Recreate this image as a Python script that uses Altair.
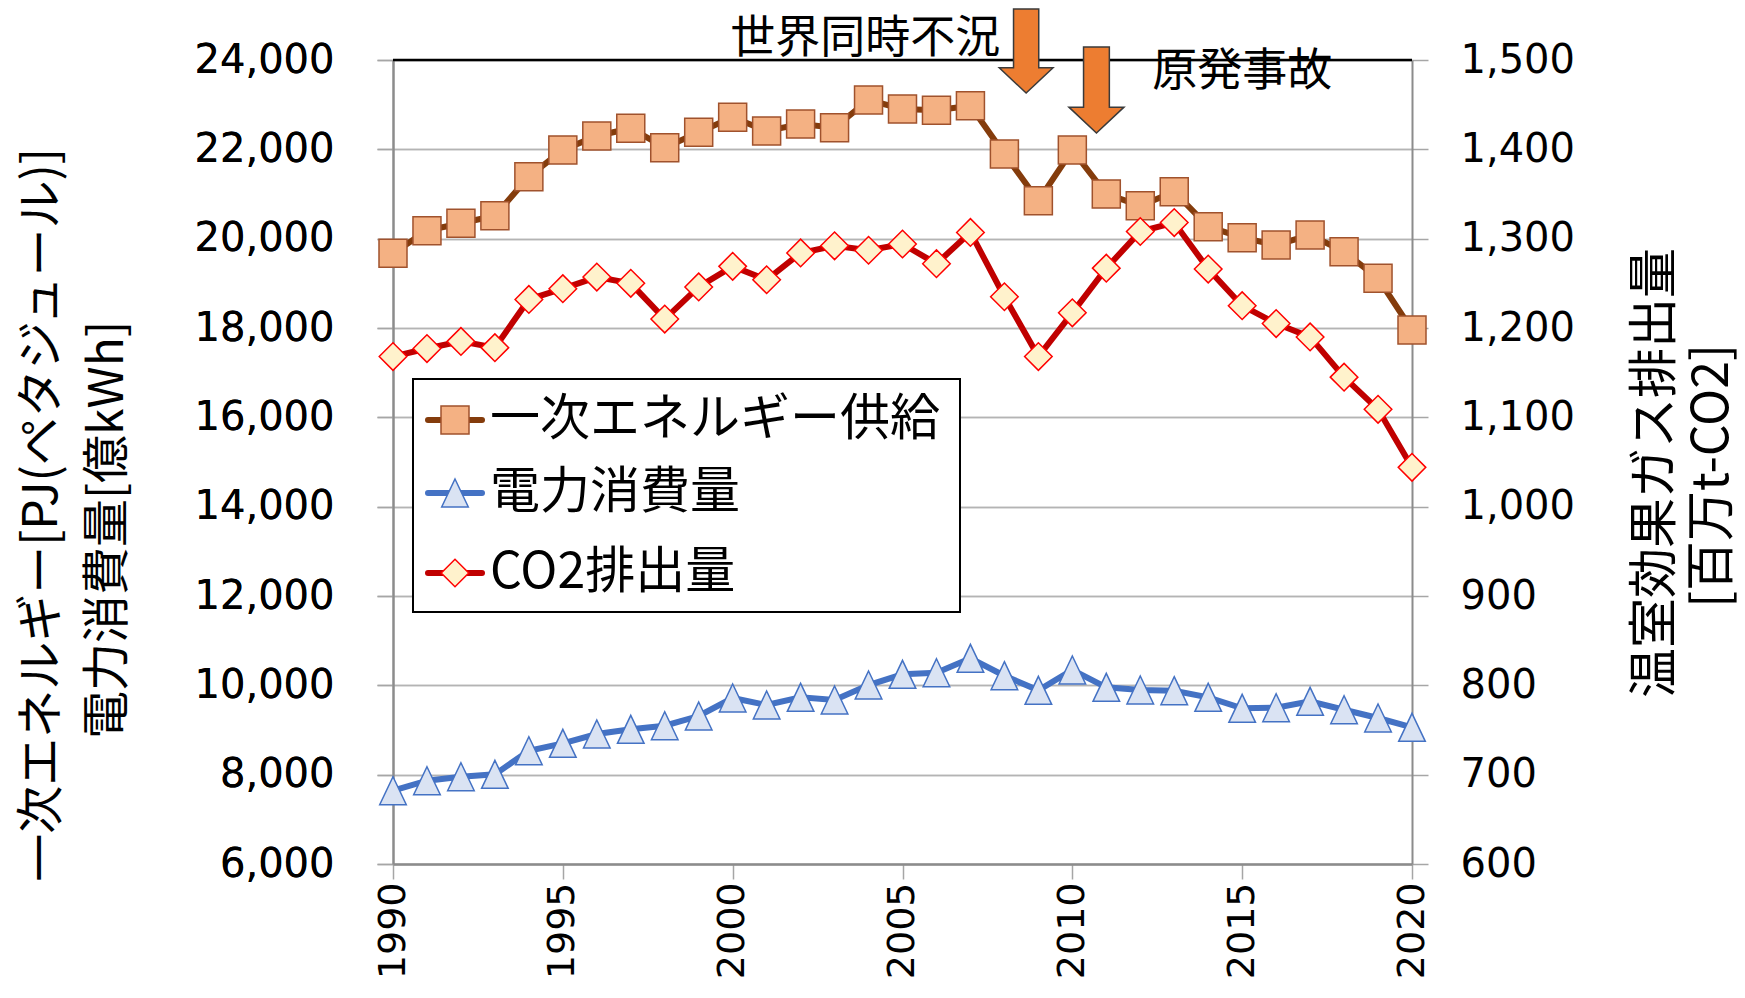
import altair as alt
import pandas as pd

# ---------------- data ----------------
years = list(range(1990, 2021))
primary_energy = [19673, 20179, 20345, 20515, 21388, 21986, 22299, 22472, 22037, 22382,
                  22718, 22411, 22567, 22485, 23105, 22904, 22874, 22977, 21895, 20850,
                  21984, 21000, 20738, 21051, 20268, 20022, 19859, 20082, 19709, 19112, 17955]
electricity = [7640, 7864, 7954, 8007, 8536, 8701, 8910, 9015, 9096, 9313,
               9716, 9559, 9731, 9671, 10007, 10246, 10282, 10604, 10216, 9888,
               10343, 9955, 9895, 9880, 9731, 9485, 9499, 9642, 9454, 9268, 9060]
co2 = [1168, 1177, 1185, 1178, 1232, 1244, 1257, 1250, 1210, 1246,
       1269, 1254, 1284, 1292, 1287, 1294, 1272, 1307, 1235, 1168,
       1217, 1267, 1308, 1318, 1266, 1225, 1205, 1190, 1145, 1109, 1044]

series_names = ["一次エネルギー供給", "電力消費量", "CO2排出量"]
x_ticks = [1990, 1995, 2000, 2005, 2010, 2015, 2020]
left_ticks = [6000, 8000, 10000, 12000, 14000, 16000, 18000, 20000, 22000, 24000]
right_ticks = [600, 700, 800, 900, 1000, 1100, 1200, 1300, 1400, 1500]

event_labels = ["世界同時不況", "原発事故"]
event_label_year = [2003.9, 2015.0]
event_label_val = [24470, 23730]
event_arrow_year = [2008.64, 2010.71]
event_arrow_val = [24200, 23330]

left_title = ["一次エネルギー[PJ(ペタジュール)]", "電力消費量[億kWh]"]
right_title = ["温室効果ガス排出量", "[百万t-CO2]"]

# ---------------- layout ----------------
W, H = 1019, 804
JP = "Noto Sans CJK JP"
NUM = "DejaVu Sans"
ARROW = "M-0.3,-1L0.3,-1L0.3,0.4L0.64,0.4L0,1L-0.64,0.4L-0.3,0.4Z"
TRI = "M0,-1L0.95,1L-0.95,1Z"

df = pd.DataFrame({"year": years, "energy": primary_energy, "elec": electricity, "co2": co2})

x_enc = alt.X(
    "year:Q",
    scale=alt.Scale(domain=[1990, 2020], nice=False, zero=False),
    axis=alt.Axis(values=x_ticks, format="d", labelAngle=270, title=None, grid=False,
                  labelFont=NUM, labelFontSize=38, labelColor="black", labelPadding=3,
                  tickSize=15, tickColor="#a6a6a6", tickWidth=1.5,
                  domainColor="#8c8c8c", domainWidth=2.5),
)

left_scale = alt.Scale(domain=[6000, 24000], nice=False, zero=False)
left_axis = alt.Axis(orient="left", values=left_ticks, format=",.0f", title=None, grid=True,
                     gridColor="#b4b4b4", gridWidth=1.5,
                     labelFont=NUM, labelFontSize=40, labelColor="black", labelPadding=43,
                     tickSize=16, tickColor="#a6a6a6", tickWidth=1.5,
                     domainColor="#8c8c8c", domainWidth=2)
right_scale = alt.Scale(domain=[600, 1500], nice=False, zero=False)
right_axis = alt.Axis(orient="right", values=right_ticks, format=",.0f", title=None, grid=False,
                      labelFont=NUM, labelFontSize=40, labelColor="black", labelPadding=32,
                      tickSize=16, tickColor="#a6a6a6", tickWidth=1.5,
                      domainColor="#8c8c8c", domainWidth=2)

base = alt.Chart(df)


def yl(field):
    return alt.Y(f"{field}:Q", scale=left_scale, axis=left_axis)


LW = 6
energy_line = base.mark_line(color="#843C0C", strokeWidth=LW).encode(x=x_enc, y=yl("energy"))
energy_pts = base.mark_point(shape="square", size=784, filled=True, fill="#F4B183", fillOpacity=1,
                             stroke="#A0522D", strokeWidth=1.5, opacity=1).encode(x=x_enc, y=yl("energy"))
elec_line = base.mark_line(color="#4472C4", strokeWidth=LW).encode(x=x_enc, y=yl("elec"))
elec_pts = base.mark_point(shape=TRI, size=784, filled=True, fill="#DAE3F3", fillOpacity=1,
                           stroke="#4472C4", strokeWidth=1.5, opacity=1).encode(x=x_enc, y=yl("elec"))

arrow_df = pd.DataFrame({"year": event_arrow_year, "ay": event_arrow_val})
arrow_layers = []
for i, sz in enumerate([7056, 7396]):
    arrow_layers.append(
        alt.Chart(arrow_df.iloc[[i]]).mark_point(shape=ARROW, size=sz, filled=True, fill="#ED7D31",
                                                 fillOpacity=1, stroke="#3a3a3a", strokeWidth=1.5,
                                                 opacity=1)
        .encode(x=x_enc, y=yl("ay"))
    )

label_df = pd.DataFrame({"year": event_label_year, "ay": event_label_val, "label": event_labels})
event_text = alt.Chart(label_df).mark_text(font=JP, fontSize=45, align="center", baseline="middle",
                                            color="black").encode(x=x_enc, y=yl("ay"), text="label:N")

left_group = alt.layer(energy_line, energy_pts, elec_line, elec_pts)

ry = alt.Y("co2:Q", scale=right_scale, axis=right_axis)
co2_line = base.mark_line(color="#C00000", strokeWidth=LW).encode(x=x_enc, y=ry)
co2_pts = base.mark_point(shape="diamond", size=760, filled=True, fill="#FFF2CC", fillOpacity=1,
                          stroke="#FF0000", strokeWidth=1.5, opacity=1).encode(x=x_enc, y=ry)
right_group = alt.layer(co2_line, co2_pts)

annot_group = alt.layer(*arrow_layers, event_text)

one = pd.DataFrame({"k": [0]})
top_rule = alt.Chart(one).mark_rule(color="black", strokeWidth=2.5).encode(
    x=alt.value(0), x2=alt.value(W), y=alt.value(0))

# manual axis titles
title_layers = []
for txt, px, py, fs in [(left_title[0], -350, 455, 48), (left_title[1], -284, 470, 48),
                        (right_title[0], 1263, 413, 50), (right_title[1], 1320, 416, 50)]:
    title_layers.append(
        alt.Chart(pd.DataFrame({"t": [txt]})).mark_text(font=JP, fontSize=fs, angle=270, align="center",
                                                        baseline="middle", color="black")
        .encode(x=alt.value(px), y=alt.value(py), text="t:N")
    )

# manual legend
legend_box = alt.Chart(one).mark_rect(fill="white", stroke="black", strokeWidth=2).encode(
    x=alt.value(20), x2=alt.value(567), y=alt.value(319), y2=alt.value(552))
legend_layers = [legend_box]
legend_styles = [
    ("#843C0C", "square", "#F4B183", "#A0522D", 784),
    ("#4472C4", TRI, "#DAE3F3", "#4472C4", 784),
    ("#C00000", "diamond", "#FFF2CC", "#FF0000", 760),
]
for name, (lc, shp, fc, sc, sz), ry_ in zip(series_names, legend_styles, [360, 433, 513]):
    legend_layers.append(alt.Chart(one).mark_rule(color=lc, strokeWidth=LW, strokeCap="round").encode(
        x=alt.value(35), x2=alt.value(89), y=alt.value(ry_)))
    legend_layers.append(alt.Chart(one).mark_point(shape=shp, size=sz, filled=True, fill=fc, fillOpacity=1,
                                                   stroke=sc, strokeWidth=1.5, opacity=1).encode(
        x=alt.value(62), y=alt.value(ry_)))
    legend_layers.append(alt.Chart(pd.DataFrame({"t": [name]})).mark_text(
        font=JP, fontSize=50, align="left", baseline="middle", color="black").encode(
        x=alt.value(97), y=alt.value(ry_), text="t:N"))

overlay = alt.layer(*title_layers, *legend_layers)

chart = alt.layer(top_rule, left_group, right_group, annot_group, overlay).resolve_scale(
    y="independent"
).properties(
    width=W, height=H,
    autosize=alt.AutoSizeParams(type="none"),
    padding={"left": 385, "top": 52, "right": 325, "bottom": 118},
    background="white",
).configure_view(strokeWidth=0)

chart.save("out.html", embed_options={"renderer": "svg", "actions": False})
